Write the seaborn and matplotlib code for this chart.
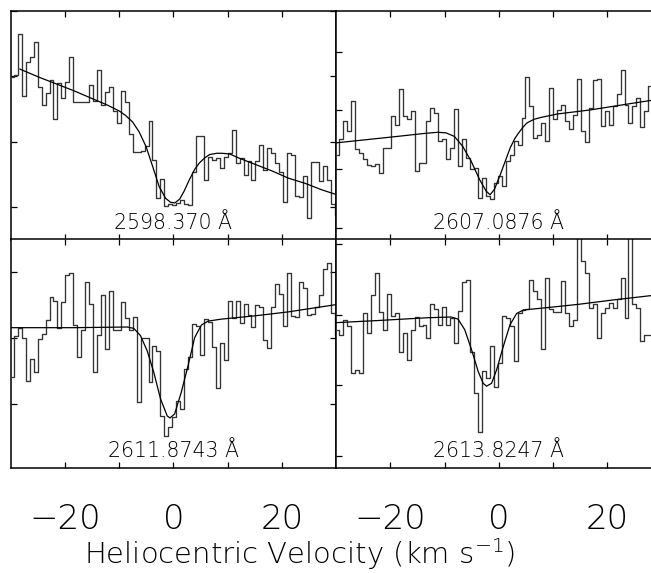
import numpy as np
import pandas as pd
import matplotlib
matplotlib.use("Agg")
import matplotlib.pyplot as plt
import matplotlib.transforms as mtransforms
import seaborn as sns

# ---------------- data ----------------
bin_width = 0.73          # km/s per spectral pixel
first_center = -29.745    # km/s, centre of first pixel

panel_labels = ["2598.370 Å", "2607.0876 Å", "2611.8743 Å", "2613.8247 Å"]

flux_2598 = [2.99, 3.02, 3.65, 2.69, 3.22, 3.29, 3.53, 2.83, 2.56, 2.75,
             2.94, 2.34, 2.89, 2.67, 2.91, 3.29, 2.60, 2.61, 2.60, 2.60,
             2.87, 2.62, 3.09, 2.56, 2.76, 2.83, 2.46, 2.28, 2.77, 2.61,
             2.11, 1.84, 1.84, 1.85, 1.93, 2.32, 1.72, 1.13, 1.42, 1.01,
             1.04, 1.03, 1.06, 1.10, 1.04, 1.03, 1.53, 2.08, 2.08, 1.41,
             1.77, 1.71, 1.75, 1.59, 1.76, 1.82, 2.17, 1.67, 1.75, 1.49,
             1.70, 1.41, 1.70, 1.95, 1.57, 1.90, 1.82, 1.67, 1.54, 1.07,
             1.82, 1.80, 1.16, 1.15, 1.47, 0.83, 1.69, 1.69, 1.39, 1.62,
             1.41, 1.04, 0.88]

flux_2607 = [2.24, 2.51, 2.82, 2.65, 3.16, 2.34, 2.28, 2.17, 2.08, 2.06,
             2.09, 1.94, 2.37, 2.37, 2.90, 2.76, 3.36, 2.90, 2.85, 2.99,
             1.97, 2.11, 2.11, 2.82, 3.04, 2.96, 2.48, 2.51, 2.17, 2.37,
             3.03, 2.06, 2.51, 2.20, 2.00, 2.03, 1.52, 1.86, 1.55, 1.49,
             1.77, 1.89, 1.72, 2.14, 2.25, 2.48, 2.42, 2.87, 3.56, 3.08,
             2.53, 2.58, 2.79, 2.49, 3.38, 2.85, 3.01, 3.10, 2.82, 2.68,
             2.92, 3.54, 2.65, 2.46, 3.04, 3.52, 3.53, 2.73, 2.99, 2.76,
             3.07, 3.28, 3.68, 3.10, 2.79, 3.07, 3.21, 2.72, 2.99, 3.41]

flux_2611 = [1.41, 2.03, 2.15, 2.01, 1.35, 1.68, 1.49, 1.99, 2.07, 2.27,
             2.62, 2.56, 2.15, 2.55, 2.96, 2.99, 2.20, 1.71, 2.12, 2.85,
             2.52, 1.49, 2.05, 2.66, 1.84, 2.72, 2.12, 2.12, 2.55, 2.31,
             2.12, 2.32, 1.03, 2.00, 2.00, 1.33, 1.88, 1.81, 0.82, 0.52,
             0.65, 0.80, 1.05, 0.92, 1.53, 1.72, 2.22, 2.18, 1.75, 2.29,
             2.25, 1.86, 1.25, 1.92, 1.67, 2.57, 2.31, 2.57, 2.23, 2.52,
             2.36, 2.17, 2.50, 2.48, 1.98, 1.85, 2.48, 2.83, 2.67, 2.18,
             2.99, 2.34, 2.32, 2.86, 2.76, 2.35, 2.37, 2.47, 2.65, 3.05,
             3.14, 2.38, 2.05]

flux_2613 = [2.79, 2.71, 2.93, 2.84, 2.17, 2.22, 2.18, 3.03, 2.74, 3.28,
             3.59, 3.04, 2.79, 3.29, 2.99, 3.03, 2.48, 2.74, 2.36, 2.79,
             2.97, 2.84, 2.85, 2.67, 3.15, 3.08, 2.86, 3.11, 2.86, 2.96,
             2.60, 3.05, 3.46, 3.50, 2.48, 1.89, 1.34, 2.20, 2.10, 2.56,
             1.98, 2.32, 2.98, 2.96, 2.84, 2.34, 3.03, 3.07, 3.08, 3.50,
             3.34, 3.22, 2.51, 3.53, 3.08, 3.04, 3.04, 3.48, 3.03, 2.84,
             2.93, 4.20, 3.76, 3.60, 3.10, 3.15, 2.67, 3.03, 3.10, 3.17,
             3.10, 3.22, 3.53, 2.96, 4.20, 3.15, 3.10, 2.63, 2.72, 2.72]

fit_v_2598 = [-28.3, -24.6, -21.5, -18.4, -15.3, -12.2, -10.0, -8.8, -7.5, -6.3,
              -5.0, -3.8, -2.6, -1.4, -0.5, 0.3, 1.2, 2.0, 3.0, 4.0, 4.8, 5.8,
              6.7, 8.0, 9.0, 10.4, 12.0, 15.1, 18.2, 21.2, 24.3, 27.4, 30.0]
fit_f_2598 = [3.11, 2.98, 2.88, 2.78, 2.67, 2.56, 2.47, 2.40, 2.30, 2.15,
              1.92, 1.62, 1.31, 1.13, 1.07, 1.06, 1.12, 1.24, 1.42, 1.58, 1.67, 1.75,
              1.80, 1.82, 1.82, 1.81, 1.75, 1.65, 1.55, 1.44, 1.36, 1.26, 1.19]

fit_v_2607 = [-30.0, -24.85, -18.67, -13.73, -11.27, -9.72, -8.18, -6.64, -5.09,
              -3.55, -2.31, -1.6, -0.8, 0.28, 1.2, 2.13, 3.0, 3.67, 4.5, 5.22,
              6.5, 7.69, 10.77, 16.94, 23.12, 28.0, 30.0]
fit_f_2607 = [2.45, 2.50, 2.56, 2.61, 2.63, 2.62, 2.56, 2.39, 2.14,
              1.83, 1.63, 1.57, 1.66, 1.91, 2.14, 2.37, 2.53, 2.62, 2.72, 2.79,
              2.85, 2.88, 2.94, 3.01, 3.10, 3.17, 3.19]

fit_v_2611 = [-30.0, -18.4, -8.52, -7.28, -6.05, -4.81, -3.58, -2.35, -1.11, -0.6,
              0.25, 1.48, 2.72, 3.95, 5.19, 6.42, 8.89, 15.06, 21.23, 30.0]
fit_f_2611 = [2.16, 2.16, 2.17, 2.15, 2.04, 1.81, 1.48, 1.08, 0.82, 0.79,
              0.85, 1.18, 1.58, 2.01, 2.20, 2.26, 2.29, 2.34, 2.40, 2.51]

fit_v_2613 = [-30.0, -22.3, -13.06, -8.73, -7.5, -6.27, -5.03, -3.80, -2.87, -2.25,
              -1.33, -0.40, 0.83, 2.07, 3.30, 4.54, 8.55, 14.72, 20.9, 27.7, 30.0]
fit_f_2613 = [2.89, 2.92, 2.96, 2.97, 2.94, 2.79, 2.51, 2.20, 2.03, 1.99,
              2.03, 2.22, 2.55, 2.86, 3.02, 3.07, 3.10, 3.15, 3.21, 3.27, 3.29]

x_ticks = [-20, -10, 0, 10, 20]
x_tick_labels = ["\u221220", "", "0", "", "20"]
x_label = r"Heliocentric Velocity (km s$^{-1}$)"

panels = [
    dict(flux=flux_2598, fv=fit_v_2598, ff=fit_f_2598, ylim=(0.50, 4.00), yticks=[1, 2, 3, 4]),
    dict(flux=flux_2607, fv=fit_v_2607, ff=fit_f_2607, ylim=(0.81, 4.69), yticks=[1, 2, 3, 4]),
    dict(flux=flux_2611, fv=fit_v_2611, ff=fit_f_2611, ylim=(0.03, 3.50), yticks=[1, 2, 3]),
    dict(flux=flux_2613, fv=fit_v_2613, ff=fit_f_2613, ylim=(0.83, 4.07), yticks=[1, 2, 3, 4]),
]

# ---------------- style ----------------
sns.set_style("ticks")
FONT = ["DejaVu Sans"]
TW = 200  # DejaVu Sans ExtraLight
plt.rcParams["font.family"] = FONT
plt.rcParams["mathtext.fontset"] = "custom"
plt.rcParams["mathtext.rm"] = "DejaVu Sans:weight=ultralight"
plt.rcParams["mathtext.it"] = "DejaVu Sans:weight=ultralight"
plt.rcParams["mathtext.default"] = "rm"
plt.rcParams["axes.linewidth"] = 1.1

fig = plt.figure(figsize=(6.51, 5.73), dpi=100)

W, H = 651.0, 573.0
lefts = [10.5 / W, 336.0 / W]
width = 325.5 / W
bottoms = [(H - 239.5) / H, (H - 468.0) / H]
height = 228.6 / H

for i, p in enumerate(panels):
    row, col = divmod(i, 2)
    ax = fig.add_axes([lefts[col], bottoms[row], width, height])
    n = len(p["flux"])
    vel = first_center + bin_width * np.arange(n)
    df = pd.DataFrame({"v": vel, "flux": p["flux"]})
    sns.lineplot(data=df, x="v", y="flux", ax=ax, drawstyle="steps-mid",
                 color="#333333", linewidth=0.95, errorbar=None)
    fdf = pd.DataFrame({"v": p["fv"], "flux": p["ff"]})
    sns.lineplot(data=fdf, x="v", y="flux", ax=ax, color="black",
                 linewidth=0.9, errorbar=None)
    ax.set_xlim(-30, 30)
    ax.set_ylim(*p["ylim"])
    ax.set_yticks(p["yticks"])
    ax.set_yticklabels([])
    ax.set_xticks(x_ticks)
    if row == 1:
        ax.set_xticklabels(x_tick_labels, fontsize=24.5, fontweight=TW,
                           family=FONT, color="black")
    else:
        ax.set_xticklabels([])
    ax.tick_params(direction="in", top=True, right=True, length=4, width=0.9,
                   pad=25, colors="black")
    ax.set_xlabel("")
    ax.set_ylabel("")
    for s in ax.spines.values():
        s.set_color("black")
    trans = mtransforms.blended_transform_factory(ax.transData, ax.transAxes)
    ax.text(0, 0.048, panel_labels[i], transform=trans, ha="center", va="baseline",
            fontsize=14.8, fontweight=TW, family=FONT, color="black")

fig.text(300 / W, 9 / H, x_label, ha="center", va="baseline",
         fontsize=21, fontweight=TW, family=FONT, color="black")

fig.savefig("out.png", dpi=100)
